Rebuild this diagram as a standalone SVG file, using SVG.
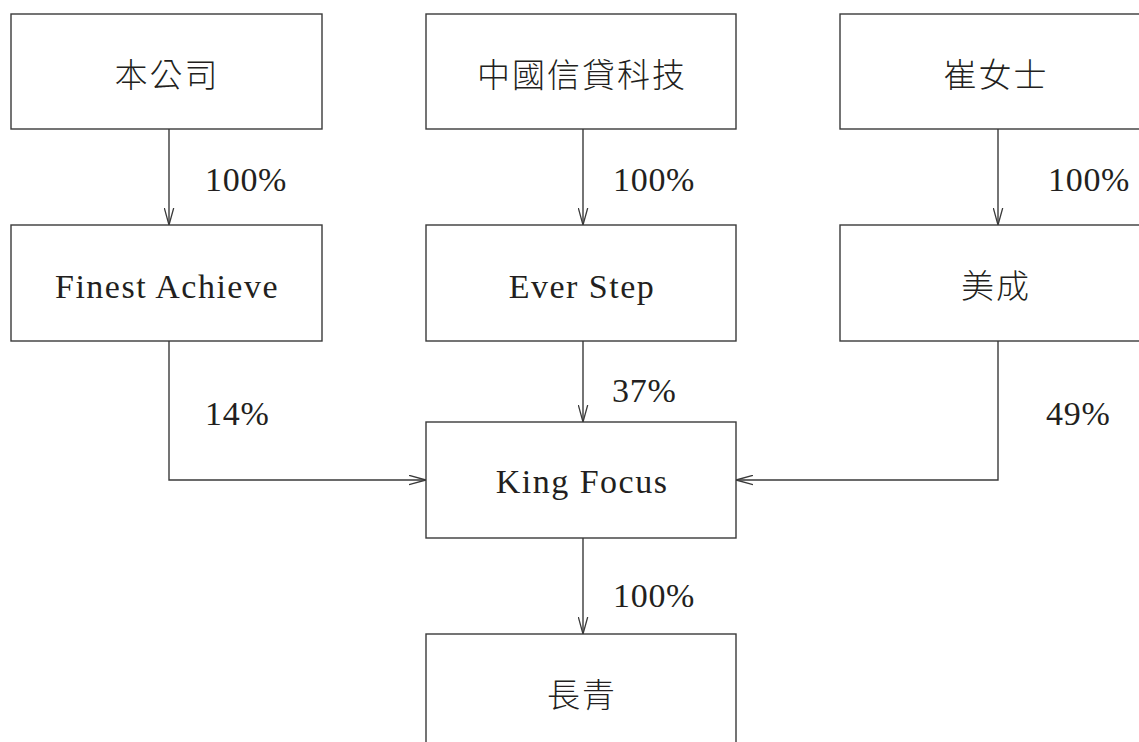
<svg xmlns="http://www.w3.org/2000/svg" width="1139" height="742" viewBox="0 0 1139 742">
<style>
.box{fill:#fff;stroke:#3a3a3a;stroke-width:1.4}
.lbl{font-family:"Liberation Serif","Noto Sans CJK TC",serif;font-size:34px;fill:#231f20;text-anchor:middle;letter-spacing:1.5px}
.cjk{font-family:"Liberation Serif","Noto Sans CJK TC",serif;font-size:33px;fill:#231f20;text-anchor:middle;font-weight:300;letter-spacing:2px}
.pct{font-family:"Liberation Serif",serif;font-size:34px;fill:#231f20;letter-spacing:0.7px}
.ln{fill:none;stroke:#3a3a3a;stroke-width:1.4}
</style>
<defs>
<marker id="arr" viewBox="0 0 17 11" refX="17" refY="5.5" markerWidth="17" markerHeight="11" markerUnits="userSpaceOnUse" orient="auto">
<path d="M0,0.8 L17,5.5 L0,10.2" fill="none" stroke="#3a3a3a" stroke-width="1.3"/>
</marker>
</defs>
<rect width="1139" height="742" fill="#fff"/>
<g id="connectors">
<line class="ln" x1="169" y1="129" x2="169" y2="225" marker-end="url(#arr)"/>
<line class="ln" x1="583" y1="129" x2="583" y2="225" marker-end="url(#arr)"/>
<line class="ln" x1="998" y1="129" x2="998" y2="225" marker-end="url(#arr)"/>
<line class="ln" x1="583" y1="341" x2="583" y2="422" marker-end="url(#arr)"/>
<polyline class="ln" points="169,341 169,480 426,480" marker-end="url(#arr)"/>
<polyline class="ln" points="998,341 998,480 736,480" marker-end="url(#arr)"/>
<line class="ln" x1="583" y1="538" x2="583" y2="634" marker-end="url(#arr)"/>
<text class="pct" x="205" y="191">100%</text>
<text class="pct" x="613" y="191">100%</text>
<text class="pct" x="1048" y="191">100%</text>
<text class="pct" x="205" y="425">14%</text>
<text class="pct" x="612" y="402">37%</text>
<text class="pct" x="1046" y="425">49%</text>
<text class="pct" x="613" y="607">100%</text>
</g>
<g id="n1"><rect class="box" x="11" y="14" width="311" height="115"/><text class="cjk" x="167" y="87">本公司</text></g>
<g id="n2"><rect class="box" x="426" y="14" width="310" height="115"/><text class="cjk" x="582" y="87">中國信貸科技</text></g>
<g id="n3"><rect class="box" x="840" y="14" width="310" height="115"/><text class="cjk" x="996" y="87">崔女士</text></g>
<g id="n4"><rect class="box" x="11" y="225" width="311" height="116"/><text class="lbl" x="167" y="298">Finest Achieve</text></g>
<g id="n5"><rect class="box" x="426" y="225" width="310" height="116"/><text class="lbl" x="582" y="298">Ever Step</text></g>
<g id="n6"><rect class="box" x="840" y="225" width="310" height="116"/><text class="cjk" x="996" y="298">美成</text></g>
<g id="n7"><rect class="box" x="426" y="422" width="310" height="116"/><text class="lbl" x="582" y="493">King Focus</text></g>
<g id="n8"><rect class="box" x="426" y="634" width="310" height="120"/><text class="cjk" x="582" y="707">長青</text></g>
</svg>
